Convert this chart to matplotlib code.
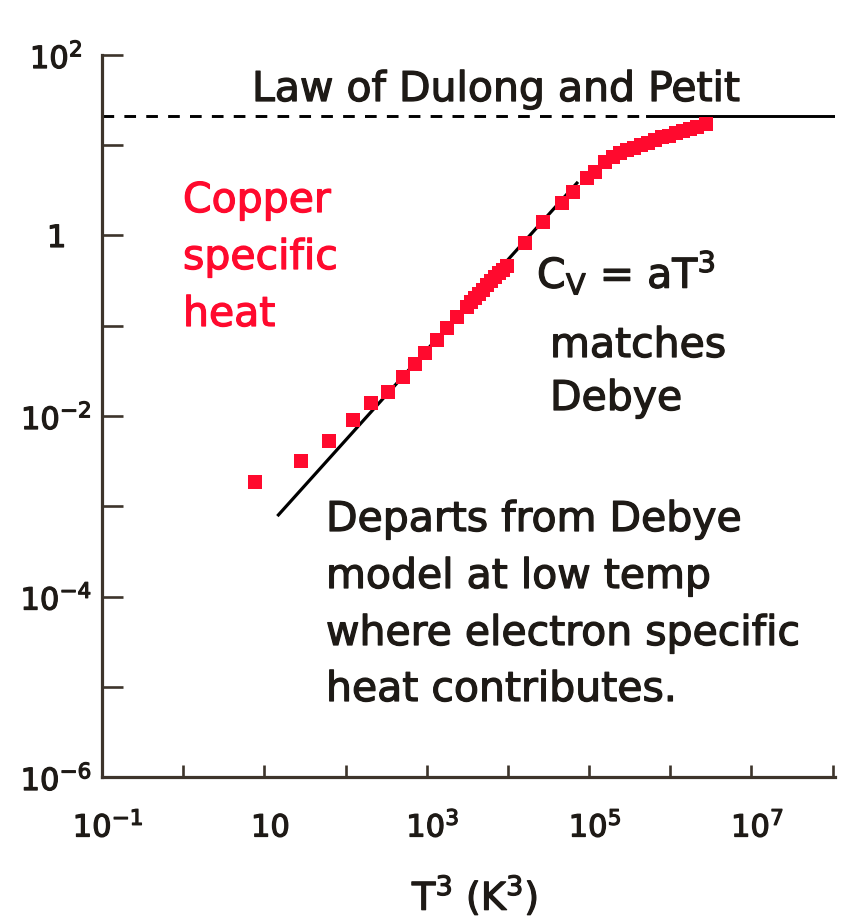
import matplotlib
matplotlib.use("Agg")
import matplotlib.pyplot as plt
import matplotlib.transforms as mtransforms
import matplotlib.patheffects as pe
import numpy as np

# copper specific heat (T^3 in K^3, C in J/mol K)
t3 = [7.75, 28.3, 63.0, 124, 207, 335, 513, 720, 955, 1343, 1782, 2366, 3141,
      3516, 3936, 4416, 4943, 5534, 6194, 6934, 7776, 8703, 9750,
      16220, 27040, 46240, 63240, 93970, 117800, 156300, 196000,
      239300, 291700, 355600, 433500, 528500, 644300, 785400, 959000,
      1.169e6, 1.425e6, 1.737e6, 2.117e6, 2.731e6]
cv = [1.86e-3, 3.20e-3, 5.32e-3, 9.04e-3, 1.39e-2, 1.85e-2, 2.70e-2, 3.77e-2,
      4.99e-2, 6.95e-2, 9.44e-2, 0.125, 0.161,
      0.183, 0.203, 0.225, 0.252, 0.283, 0.313, 0.347, 0.385, 0.420, 0.459,
      0.826, 1.41, 2.29, 3.03, 4.34, 5.05, 6.52, 7.41,
      8.20, 8.75, 9.33, 10.07, 10.72, 11.43, 12.19, 12.82,
      13.67, 14.39, 15.14, 15.93, 17.2]

# Debye T^3 law  C = a T^3
a_coef = 5.38e-5
debye_t3 = [14.9, 7.08e4]

# Dulong and Petit limit
dp_value = 21.1
dp_dashed = [0.1, 5.1e5]
dp_solid = [5.1e5, 1.07e8]

x_ticks = [1e-1, 1e0, 1e1, 1e2, 1e3, 1e4, 1e5, 1e6, 1e7, 1e8]
x_labels = [r'$10^{-1}$', '', r'$10$', '', r'$10^{3}$', '', r'$10^{5}$', '', r'$10^{7}$', '']
y_ticks = [1e-6, 1e-5, 1e-4, 1e-3, 1e-2, 1e-1, 1e0, 1e1, 1e2]
y_labels = [r'$10^{-6}$', '', r'$10^{-4}$', '', r'$10^{-2}$', '', r'$1$', '', r'$10^{2}$']

red = '#ff0a2e'
ink = '#1e1a16'
axis_col = '#3d342b'

W, H = 841, 922
fig = plt.figure(figsize=(W / 100, H / 100), dpi=100)
ax_left, ax_right, ax_top, ax_bot = 102, 835, 55, 777
ax = fig.add_axes([ax_left / W, 1 - ax_bot / H,
                   (ax_right - ax_left) / W, (ax_bot - ax_top) / H])

def at(px, py):
    # picture pixel -> axes fraction
    return ((px - ax_left) / (ax_right - ax_left),
            (ax_bot - py) / (ax_bot - ax_top))

ax.set_xscale('log')
ax.set_yscale('log')
ax.set_xlim(0.1, 1.07e8)
ax.set_ylim(1e-6, 1e2)

# Dulong-Petit line
ax.plot(dp_dashed, [dp_value, dp_value], color='black', lw=2.1,
        dashes=(4.0, 3.5), zorder=2)
ax.plot(dp_solid, [dp_value, dp_value], color='black', lw=2.1, zorder=2)

# Debye line
dx = np.array(debye_t3)
ax.plot(dx, a_coef * dx, color='black', lw=2.3, zorder=2)

# data
ax.plot(t3, cv, 's', color=red, markersize=10.3, markeredgewidth=0, zorder=3)

for s in ['top', 'right']:
    ax.spines[s].set_visible(False)
for s in ['left', 'bottom']:
    ax.spines[s].set_color(axis_col)
    ax.spines[s].set_linewidth(2.3)

ax.set_xticks(x_ticks)
ax.set_xticklabels(x_labels)
ax.set_yticks(y_ticks)
ax.set_yticklabels(y_labels)
ax.minorticks_off()
ax.tick_params(axis='x', direction='in', length=8.5, width=1.9, color=axis_col,
               labelsize=22, labelcolor=ink, pad=43)
ax.tick_params(axis='y', direction='in', length=15, width=1.9, color=axis_col,
               labelsize=22, labelcolor=ink, pad=33)

# heavier strokes, the original lettering is quite dark
thick = [pe.withStroke(linewidth=0.9, foreground=ink)]
thick_red = [pe.withStroke(linewidth=0.9, foreground=red)]

for lab in ax.get_yticklabels():
    lab.set_horizontalalignment('center')
    lab.set_path_effects(thick)
shift = mtransforms.ScaledTranslation(6 / 100, 0, fig.dpi_scale_trans)
for lab in ax.get_xticklabels():
    lab.set_verticalalignment('baseline')
    lab.set_transform(lab.get_transform() + shift)
    lab.set_path_effects(thick)

fs = 29.5
ax.text(*at(252, 101), 'Law of Dulong and Petit', transform=ax.transAxes,
        fontsize=fs, color=ink, va='baseline', ha='left', path_effects=thick)

for txt, py in zip(['Copper', 'specific', 'heat'], [212, 269, 326]):
    ax.text(*at(183, py), txt, transform=ax.transAxes, fontsize=fs,
            color=red, va='baseline', ha='left', path_effects=thick_red)

ax.text(*at(537, 288), r'C$_{\mathrm{V}}$ = aT$^{3}$', transform=ax.transAxes,
        fontsize=fs, color=ink, va='baseline', ha='left', path_effects=thick)
for txt, py in zip(['matches', 'Debye'], [357, 410]):
    ax.text(*at(550, py), txt, transform=ax.transAxes, fontsize=fs,
            color=ink, va='baseline', ha='left', path_effects=thick)

departs = ['Departs from Debye', 'model at low temp',
           'where electron specific', 'heat contributes.']
for txt, py in zip(departs, [531, 588, 645, 701]):
    ax.text(*at(326, py), txt, transform=ax.transAxes, fontsize=fs,
            color=ink, va='baseline', ha='left', path_effects=thick)

ax.text(*at(412, 910), r'T$^{3}$ (K$^{3}$)', transform=ax.transAxes,
        fontsize=27.5, color=ink, va='baseline', ha='left', clip_on=False,
        path_effects=thick)

fig.savefig('out.png', dpi=100)
